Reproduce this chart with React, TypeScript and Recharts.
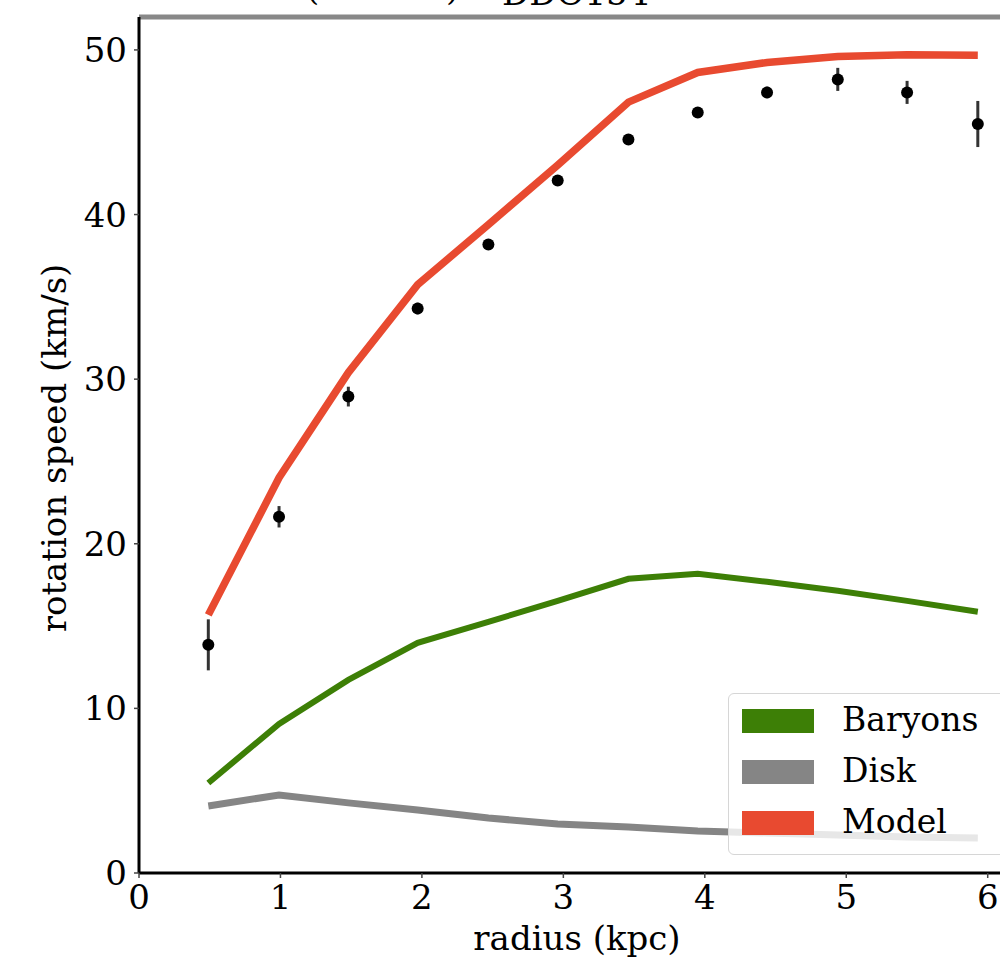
import {
  ComposedChart,
  ErrorBar,
  Line,
  ReferenceLine,
  Scatter,
  XAxis,
  YAxis,
} from "recharts";

// radius (kpc) of each sample point
const radius = [0.49, 0.99, 1.48, 1.97, 2.47, 2.96, 3.46, 3.95, 4.44, 4.94, 5.43, 5.93];

// observed rotation speed and its error (km/s)
const observed = [13.86, 21.64, 28.94, 34.29, 38.18, 42.07, 44.56, 46.2, 47.42, 48.21, 47.42, 45.5];
const observedErr = [1.55, 0.65, 0.6, 0.35, 0.3, 0.25, 0.25, 0.25, 0.35, 0.7, 0.7, 1.4];

// model curves (km/s)
const model = [15.68, 24.01, 30.4, 35.74, 39.39, 43.0, 46.83, 48.63, 49.24, 49.6, 49.7, 49.67];
const baryons = [5.47, 9.05, 11.73, 13.98, 15.26, 16.53, 17.87, 18.18, 17.69, 17.14, 16.53, 15.87];
const disk = [4.07, 4.74, 4.26, 3.83, 3.34, 2.98, 2.8, 2.55, 2.43, 2.31, 2.19, 2.13];

const xTicks = [0, 1, 2, 3, 4, 5, 6];
const yTicks = [0, 10, 20, 30, 40, 50];

const series = [
  { key: "baryons", name: "Baryons", color: "#3d7f06", width: 6 },
  { key: "disk", name: "Disk", color: "#858585", width: 7 },
  { key: "model", name: "Model", color: "#e84a30", width: 7.5 },
];

const rows = radius.map((r, i) => ({
  r,
  obs: observed[i],
  err: observedErr[i],
  model: model[i],
  baryons: baryons[i],
  disk: disk[i],
}));

const FONT = "'DejaVu Serif', serif";
const tickStyle = { fontSize: 34, fill: "#000", fontFamily: FONT };

function Dot(props: any) {
  const { cx, cy } = props;
  return <circle cx={cx} cy={cy} r={6} fill="#000" />;
}

export default function App() {
  return (
    <div
      style={{
        position: "absolute",
        left: 0,
        top: 0,
        width: 1000,
        height: 962,
        overflow: "hidden",
        background: "#fff",
        fontFamily: FONT,
      }}
    >
      <svg
        width={1000}
        height={20}
        style={{ position: "absolute", left: 0, top: 0 }}
      >
        <text x={306} y={-0.5} fontSize={34} fontFamily={FONT} fill="#000">(</text>
        <text x={446} y={-0.5} fontSize={34} fontFamily={FONT} fill="#000">)</text>
        <text x={502} y={5} fontSize={34} fontFamily={FONT} fill="#000">DDO154</text>
      </svg>

      <ComposedChart
        width={1030}
        height={962}
        data={rows}
        margin={{ top: 17, right: 14, bottom: 0, left: 0 }}
      >
        <XAxis
          dataKey="r"
          type="number"
          domain={[0, 6.2]}
          ticks={xTicks}
          tick={tickStyle}
          tickSize={5}
          tickMargin={7}
          tickLine={{ stroke: "#444", strokeWidth: 1.5 }}
          axisLine={{ stroke: "#000", strokeWidth: 3 }}
          height={89}
          label={{
            content: () => (
              <text
                x={577}
                y={950}
                textAnchor="middle"
                fontSize={34}
                fontFamily={FONT}
                fill="#000"
              >
                radius (kpc)
              </text>
            ),
          }}
        />
        <YAxis
          type="number"
          domain={[0, 52]}
          ticks={yTicks}
          tick={tickStyle}
          tickSize={5}
          tickMargin={7}
          tickLine={{ stroke: "#444", strokeWidth: 1.5 }}
          axisLine={{ stroke: "#000", strokeWidth: 3 }}
          width={139}
          label={{
            content: () => (
              <text
                x={66}
                y={448}
                textAnchor="middle"
                transform="rotate(-90 66 448)"
                fontSize={34}
                fontFamily={FONT}
                fill="#000"
              >
                rotation speed (km/s)
              </text>
            ),
          }}
        />
        <ReferenceLine y={52} stroke="#888" strokeWidth={5} />
        {series.map((s) => (
          <Line
            key={s.key}
            type="linear"
            dataKey={s.key}
            stroke={s.color}
            strokeWidth={s.width}
            dot={false}
            activeDot={false}
            isAnimationActive={false}
          />
        ))}
        <Scatter dataKey="obs" shape={Dot} isAnimationActive={false}>
          <ErrorBar
            dataKey="err"
            direction="y"
            width={0}
            stroke="#333"
            strokeWidth={3}
            isAnimationActive={false}
          />
        </Scatter>
      </ComposedChart>

      <div
        style={{
          position: "absolute",
          left: 728,
          top: 693,
          width: 290,
          height: 162,
          boxSizing: "border-box",
          border: "1.5px solid #d6d6d6",
          borderRadius: 6,
          background: "rgba(255,255,255,0.8)",
        }}
      >
        {series.map((s, i) => (
          <div
            key={s.key}
            style={{
              position: "absolute",
              left: 0,
              top: 14 + i * 51,
              height: 26,
              display: "flex",
              alignItems: "center",
            }}
          >
            <div
              style={{
                marginLeft: 13,
                width: 72,
                height: 24,
                background: s.color,
              }}
            />
            <span
              style={{
                marginLeft: 28,
                fontSize: 33,
                lineHeight: "26px",
                color: "#000",
                fontFamily: FONT,
                position: "relative",
                top: -1,
              }}
            >
              {s.name}
            </span>
          </div>
        ))}
      </div>
    </div>
  );
}
